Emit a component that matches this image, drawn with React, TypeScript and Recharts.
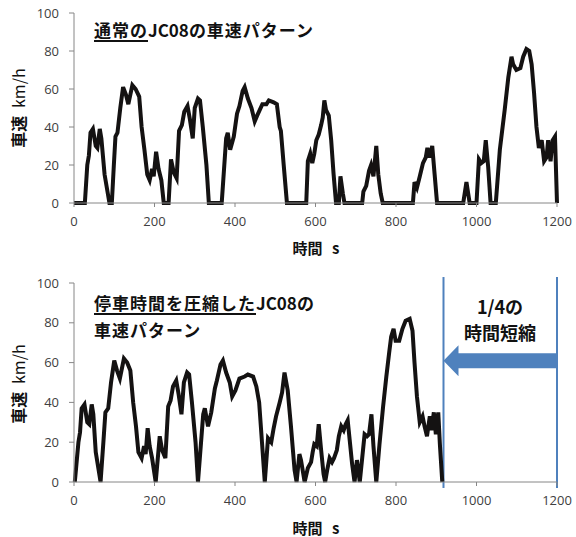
import { LineChart, Line, XAxis, YAxis, ReferenceLine, ReferenceArea } from "recharts";

// JC08 normal speed pattern (s, km/h)
const normalTimes = [
  0, 27, 33, 37, 41, 47, 54, 58, 64, 68, 76, 84, 88, 94, 99, 103, 108, 115, 122, 129, 135, 145, 153, 162,
  168, 175, 182, 188, 194, 198, 204, 210, 217, 223, 235, 241, 248, 255, 261, 268, 274, 282, 288, 295, 300,
  308, 313, 320, 329, 335, 367, 378, 382, 388, 397, 405, 411, 419, 424, 432, 441, 449, 455, 468, 478, 484,
  496, 504, 511, 514, 521, 529, 577, 581, 587, 592, 597, 602, 608, 614, 618, 622, 626, 633, 639, 645, 651,
  658, 662, 668, 672, 716, 719, 726, 733, 738, 744, 751, 756, 762, 767, 842, 846, 852, 859, 867, 874, 878,
  884, 890, 896, 902, 967, 975, 983, 1000, 1006, 1012, 1018, 1023, 1029, 1035, 1048, 1058, 1070, 1079,
  1087, 1091, 1099, 1109, 1116, 1124, 1131, 1137, 1143, 1149, 1155, 1162, 1168, 1174, 1178, 1184, 1189,
  1195, 1200,
];
const normalSpeeds = [
  0, 0, 20, 25, 37, 39, 30, 29, 39, 34, 15, 5, 0, 0, 20, 35, 37, 50, 61, 57, 52, 62, 60, 56,
  40, 28, 15, 12, 18, 14, 27, 18, 12, 0, 0, 23, 16, 13, 38, 41, 48, 51, 44, 34, 50,
  55, 54, 40, 20, 0, 0, 34, 37, 28, 35, 47, 51, 59, 61, 55, 50, 43, 46, 52, 52, 54,
  53, 52, 40, 38, 20, 0, 0, 22, 26, 21, 26, 33, 36, 41, 45, 54, 49, 46, 33, 15, 0,
  0, 14, 5, 0, 0, 6, 9, 17, 20, 14, 30, 15, 5, 0, 0, 11, 8, 14, 21, 24, 29,
  24, 30, 15, 0, 0, 11, 0, 0, 23, 21, 22, 33, 19, 0, 0, 28, 49, 66,
  77, 73, 70, 71, 77, 81, 80, 73, 58, 40, 29, 33, 22, 24, 33, 22, 33,
  35, 0,
];

// JC08 with idle time compressed (s, km/h)
const shortTimes = [
  2, 11, 15, 19, 26, 33, 38, 44, 48, 54, 62, 66, 73, 78, 85, 92, 100, 107, 114, 124, 132, 140, 147, 154,
  160, 168, 174, 178, 183, 188, 194, 203, 213, 219, 227, 234, 240, 246, 254, 260, 267, 273, 281, 286, 293,
  302, 308, 321, 325, 333, 341, 350, 355, 364, 370, 378, 387, 393, 401, 411, 424, 432, 445, 453, 460, 467,
  474, 482, 490, 496, 502, 511, 517, 523, 531, 539, 548, 553, 560, 564, 573, 581, 589, 593, 597, 603, 608,
  614, 620, 624, 629, 635, 641, 646, 653, 658, 664, 670, 675, 680, 685, 691, 697, 703, 710, 722, 728, 733,
  739, 744, 751, 759, 768, 776, 783, 788, 794, 799, 808, 816, 824, 834, 841, 846, 852, 859, 866, 871, 877,
  884, 888, 894, 899, 905, 909, 915,
];
const shortSpeeds = [
  0, 20, 25, 37, 39, 30, 29, 39, 34, 15, 5, 0, 20, 35, 37, 50, 61, 56, 52, 62, 60, 56, 40, 28,
  15, 12, 18, 14, 27, 18, 12, 0, 23, 16, 12, 38, 41, 48, 51, 44, 34, 50, 55, 54, 40,
  20, 0, 34, 37, 28, 35, 47, 51, 59, 61, 55, 50, 43, 46, 52, 53, 54, 53, 48, 40, 20,
  0, 22, 20, 27, 33, 40, 45, 55, 46, 28, 6, 0, 14, 11, 0, 7, 10, 15, 19, 18, 29,
  16, 4, 0, 6, 12, 10, 12, 16, 23, 28, 26, 29, 31, 21, 9, 0, 11, 0, 24, 23, 24,
  34, 18, 0, 19, 38, 53, 65, 73, 77, 71, 71, 77, 81, 82, 76, 60, 43, 30, 33, 28, 23,
  33, 26, 35, 24, 35, 19, 0,
];

const xTicks = [0, 200, 400, 600, 800, 1000, 1200];
const yTicks = [0, 20, 40, 60, 80, 100];
const cutStart = 918;
const cutEnd = 1200;

const normalData = normalTimes.map((t, i) => ({ t, v: normalSpeeds[i] }));
const shortData = shortTimes.map((t, i) => ({ t, v: shortSpeeds[i] }));

const JP = "'Noto Sans CJK JP', sans-serif";
const tickStyle = { fill: "#404040", fontSize: 13, fontFamily: "'Open Sans', sans-serif" };
const axisColor = "#868686";
const blue = "#4f81bd";

// arrow pointing left, drawn inside the reference area
const Arrow = (props: any) => {
  const { x, y, width, height } = props;
  const head = 15;
  const wing = 8;
  const cy = y + height / 2;
  const d = [
    `M${x},${cy}`,
    `L${x + head},${y - wing}`,
    `L${x + head},${y}`,
    `L${x + width},${y}`,
    `L${x + width},${y + height}`,
    `L${x + head},${y + height}`,
    `L${x + head},${y + height + wing}`,
    "Z",
  ].join(" ");
  return <path d={d} fill={blue} />;
};

const Speed = ({ data, height, bottom, children }: { data: any[]; height: number; bottom: number; children?: any }) => (
  <LineChart width={576} height={height} data={data} margin={{ top: 13, right: 19, bottom, left: 34 }}>
    <XAxis
      type="number"
      dataKey="t"
      domain={[0, 1200]}
      ticks={xTicks}
      height={30}
      tick={tickStyle}
      tickSize={4}
      tickMargin={10}
      stroke={axisColor}
    />
    <YAxis
      type="number"
      domain={[0, 100]}
      ticks={yTicks}
      width={40}
      tick={tickStyle}
      tickSize={5}
      tickMargin={10}
      stroke={axisColor}
    />
    {children}
    <Line
      type="linear"
      dataKey="v"
      stroke="#141212"
      strokeWidth={4}
      dot={false}
      isAnimationActive={false}
    />
  </LineChart>
);

const label = (left: number, top: number, text: any, size = 17, extra: any = {}) => (
  <div
    style={{
      position: "absolute",
      left,
      top,
      fontFamily: JP,
      fontWeight: "bold",
      fontSize: size,
      color: "#111",
      whiteSpace: "nowrap",
      lineHeight: 1,
      ...extra,
    }}
  >
    {text}
  </div>
);

const underline = {
  textDecoration: "underline",
  textDecorationThickness: "1.5px",
  textUnderlineOffset: "3px",
};

const latin = { letterSpacing: 0 };

export default function App() {
  return (
    <div style={{ position: "absolute", left: 0, top: 0, width: 576, height: 537, background: "white" }}>
      <div style={{ position: "absolute", left: 0, top: 0 }}>
        <Speed data={normalData} height={260} bottom={27} />
      </div>
      <div style={{ position: "absolute", left: 0, top: 270 }}>
        <Speed data={shortData} height={267} bottom={25}>
          <ReferenceLine
            segment={[{ x: cutStart, y: -3 }, { x: cutStart, y: 103 }]}
            stroke={blue}
            strokeWidth={2}
            ifOverflow="visible"
          />
          <ReferenceLine
            segment={[{ x: cutEnd, y: -3 }, { x: cutEnd, y: 103 }]}
            stroke={blue}
            strokeWidth={2}
            ifOverflow="visible"
          />
          <ReferenceArea x1={cutStart} x2={cutEnd} y1={57.2} y2={64.7} shape={<Arrow />} ifOverflow="visible" />
        </Speed>
      </div>

      {/* titles */}
      {label(94, 21, <><span style={underline}>通常の</span><span style={latin}>JC08</span>の車速パターン</>, 17, { letterSpacing: 1 })}
      {label(94, 294, <><span style={underline}>停車時間を圧縮した</span><span style={latin}>JC08</span>の</>, 17, { letterSpacing: 1 })}
      {label(94, 321, "車速パターン", 17, { letterSpacing: 1 })}

      {/* annotation */}
      {label(500, 306, "1/4の", 18, { transform: "translate(-50%, -50%)" })}
      {label(500, 332, "時間短縮", 18, { transform: "translate(-50%, -50%)" })}

      {/* axis titles */}
      {label(18, 108, <>車速 <span style={{ fontWeight: "normal" }}>km/h</span></>, 16, {
        transform: "translate(-50%, -50%) rotate(-90deg)",
        wordSpacing: 4,
      })}
      {label(18, 384, <>車速 <span style={{ fontWeight: "normal" }}>km/h</span></>, 16, {
        transform: "translate(-50%, -50%) rotate(-90deg)",
        wordSpacing: 4,
      })}
      {label(316, 247, <>時間 s</>, 15, { transform: "translate(-50%, -50%)", wordSpacing: 6 })}
      {label(316, 527, <>時間 s</>, 15, { transform: "translate(-50%, -50%)", wordSpacing: 6 })}
    </div>
  );
}
